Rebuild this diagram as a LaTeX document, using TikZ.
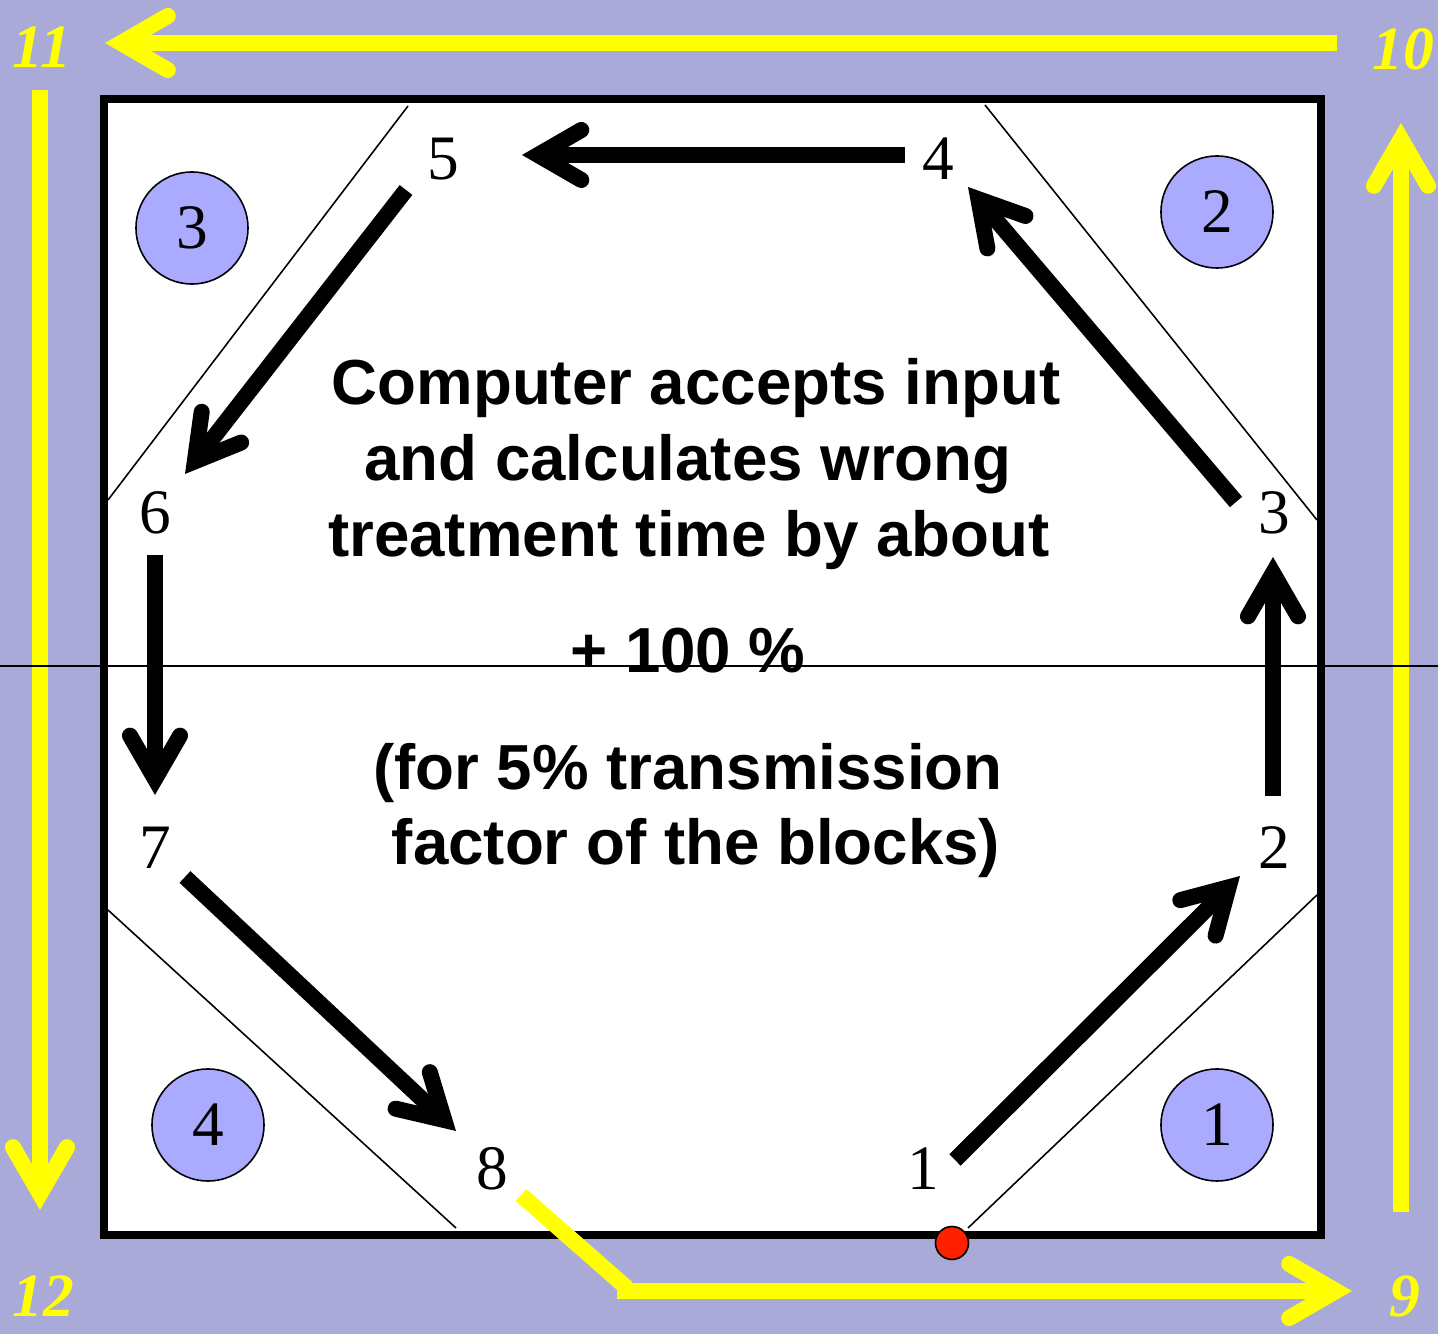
\documentclass[tikz,border=0pt]{standalone}
\usepackage{fontspec}
\setmainfont{Liberation Serif}
\setsansfont{Liberation Sans}
\usetikzlibrary{calc}
\definecolor{bg}{RGB}{170,170,216}
\definecolor{circ}{RGB}{170,170,255}
\definecolor{yel}{RGB}{255,255,0}
\definecolor{reddot}{RGB}{255,32,0}

% open arrow: style, from, visual tip, barb length
\newcommand\openarrow[4]{%
  \path ($(#3)!0.16cm!(#2)$) coordinate (oaJ);
  \draw[#1,line cap=butt] (#2) -- (oaJ);
  \draw[#1,line cap=round,line join=miter] ($(oaJ)!#4!30:(#2)$) -- (oaJ) -- ($(oaJ)!#4!-30:(#2)$);
}

\tikzset{
  blackarrow/.style={line width=0.16cm, draw=black},
  yelarrow/.style={line width=0.16cm, draw=yel},
  thinline/.style={line width=0.45pt, draw=black},
  num/.style={font=\fontsize{18}{20}\selectfont, inner sep=0, anchor=base},
  badge/.style={circle, draw=black, line width=0.45pt, fill=circ, minimum size=1.12cm, inner sep=0,
                font=\fontsize{18}{20}\selectfont},
  ynum/.style={font=\bfseries\itshape\fontsize{17.5}{20}\selectfont, text=yel, inner sep=0, anchor=base},
  ctext/.style={font=\sffamily\bfseries\fontsize{18.1}{22}\selectfont, inner sep=0, anchor=base},
}

\begin{document}
\begin{tikzpicture}[x=0.01cm, y=-0.01cm]
\useasboundingbox (0,0) rectangle (1438,1334);
\fill[bg] (0,0) rectangle (1438,1334);

% main box
\draw[line width=0.08cm, fill=white] (104,99) rectangle (1321,1235);

% thin diagonal lines
\draw[thinline] (408,106) -- (108,500);
\draw[thinline] (985,105) -- (1317,520);
\draw[thinline] (1317,895) -- (968,1228);
\draw[thinline] (108,910) -- (456,1228);

% corner badges
\node[badge] (c3) at (192,228) {3};
\node[badge] (c2) at (1217,212) {2};
\node[badge] (c4) at (208,1125) {4};
\node[badge] (c1) at (1217,1125) {1};

% position numbers
\node[num] (n1) at (923,1190) {1};
\node[num] (n2) at (1274,869) {2};
\node[num] (n3) at (1274,534) {3};
\node[num] (n4) at (938,180) {4};
\node[num] (n5) at (443,180) {5};
\node[num] (n6) at (155,534) {6};
\node[num] (n7) at (155,869) {7};
\node[num] (n8) at (492,1190) {8};

% central text
\node[ctext] (t1) at (696,405) {Computer accepts input};
\node[ctext] (t2) at (688,481) {and calculates wrong};
\node[ctext] (t3) at (689,557) {treatment time by about};
\node[ctext] (t4) at (688,673) {+ 100 \%};
\node[ctext] (t5) at (688,790) {(for 5\% transmission};
\node[ctext] (t6) at (696,865) {factor of the blocks)};

% black arrows
\coordinate (a1s) at (955,1160);  \coordinate (a1e) at (1240,876);
\coordinate (a2s) at (1273,796);  \coordinate (a2e) at (1273,557);
\coordinate (a3s) at (1236,502);  \coordinate (a3e) at (968,187);
\coordinate (a4s) at (905,155);   \coordinate (a4e) at (522,155);
\coordinate (a5s) at (406,190);   \coordinate (a5e) at (185,474);
\coordinate (a6s) at (155,555);   \coordinate (a6e) at (155,795);
\coordinate (a7s) at (185,877);   \coordinate (a7e) at (456,1131);
\openarrow{blackarrow}{a1s}{a1e}{0.5cm}
\openarrow{blackarrow}{a2s}{a2e}{0.5cm}
\openarrow{blackarrow}{a3s}{a3e}{0.5cm}
\openarrow{blackarrow}{a4s}{a4e}{0.5cm}
\openarrow{blackarrow}{a5s}{a5e}{0.5cm}
\openarrow{blackarrow}{a6s}{a6e}{0.5cm}
\openarrow{blackarrow}{a7s}{a7e}{0.5cm}

% yellow arrows
\coordinate (ytS) at (1337,43);  \coordinate (ytE) at (105,43);
\coordinate (ylS) at (40,90);    \coordinate (ylE) at (40,1210);
\coordinate (yrS) at (1401,1212);\coordinate (yrE) at (1401,123);
\coordinate (ybA) at (521,1195); \coordinate (ybB) at (627,1288);
\coordinate (ybS) at (617,1291); \coordinate (ybE) at (1352,1291);
\openarrow{yelarrow}{ytS}{ytE}{0.54cm}
\openarrow{yelarrow}{ylS}{ylE}{0.54cm}
\openarrow{yelarrow}{yrS}{yrE}{0.54cm}
\draw[yelarrow, line cap=butt] (ybA) -- (ybB);
\openarrow{yelarrow}{ybS}{ybE}{0.54cm}

% yellow corner numbers
\node[ynum] (y11) at (42,68) {11};
\node[ynum] (y10) at (1403,70) {10};
\node[ynum] (y12) at (43,1317) {12};
\node[ynum] (y9) at (1405,1317) {9};

% horizontal thin line
\draw[thinline] (0,666) -- (1438,666);

% red dot
\node[circle, draw=black, line width=0.45pt, fill=reddot, minimum size=0.33cm, inner sep=0] (dot) at (952,1243) {};
\end{tikzpicture}
\end{document}
